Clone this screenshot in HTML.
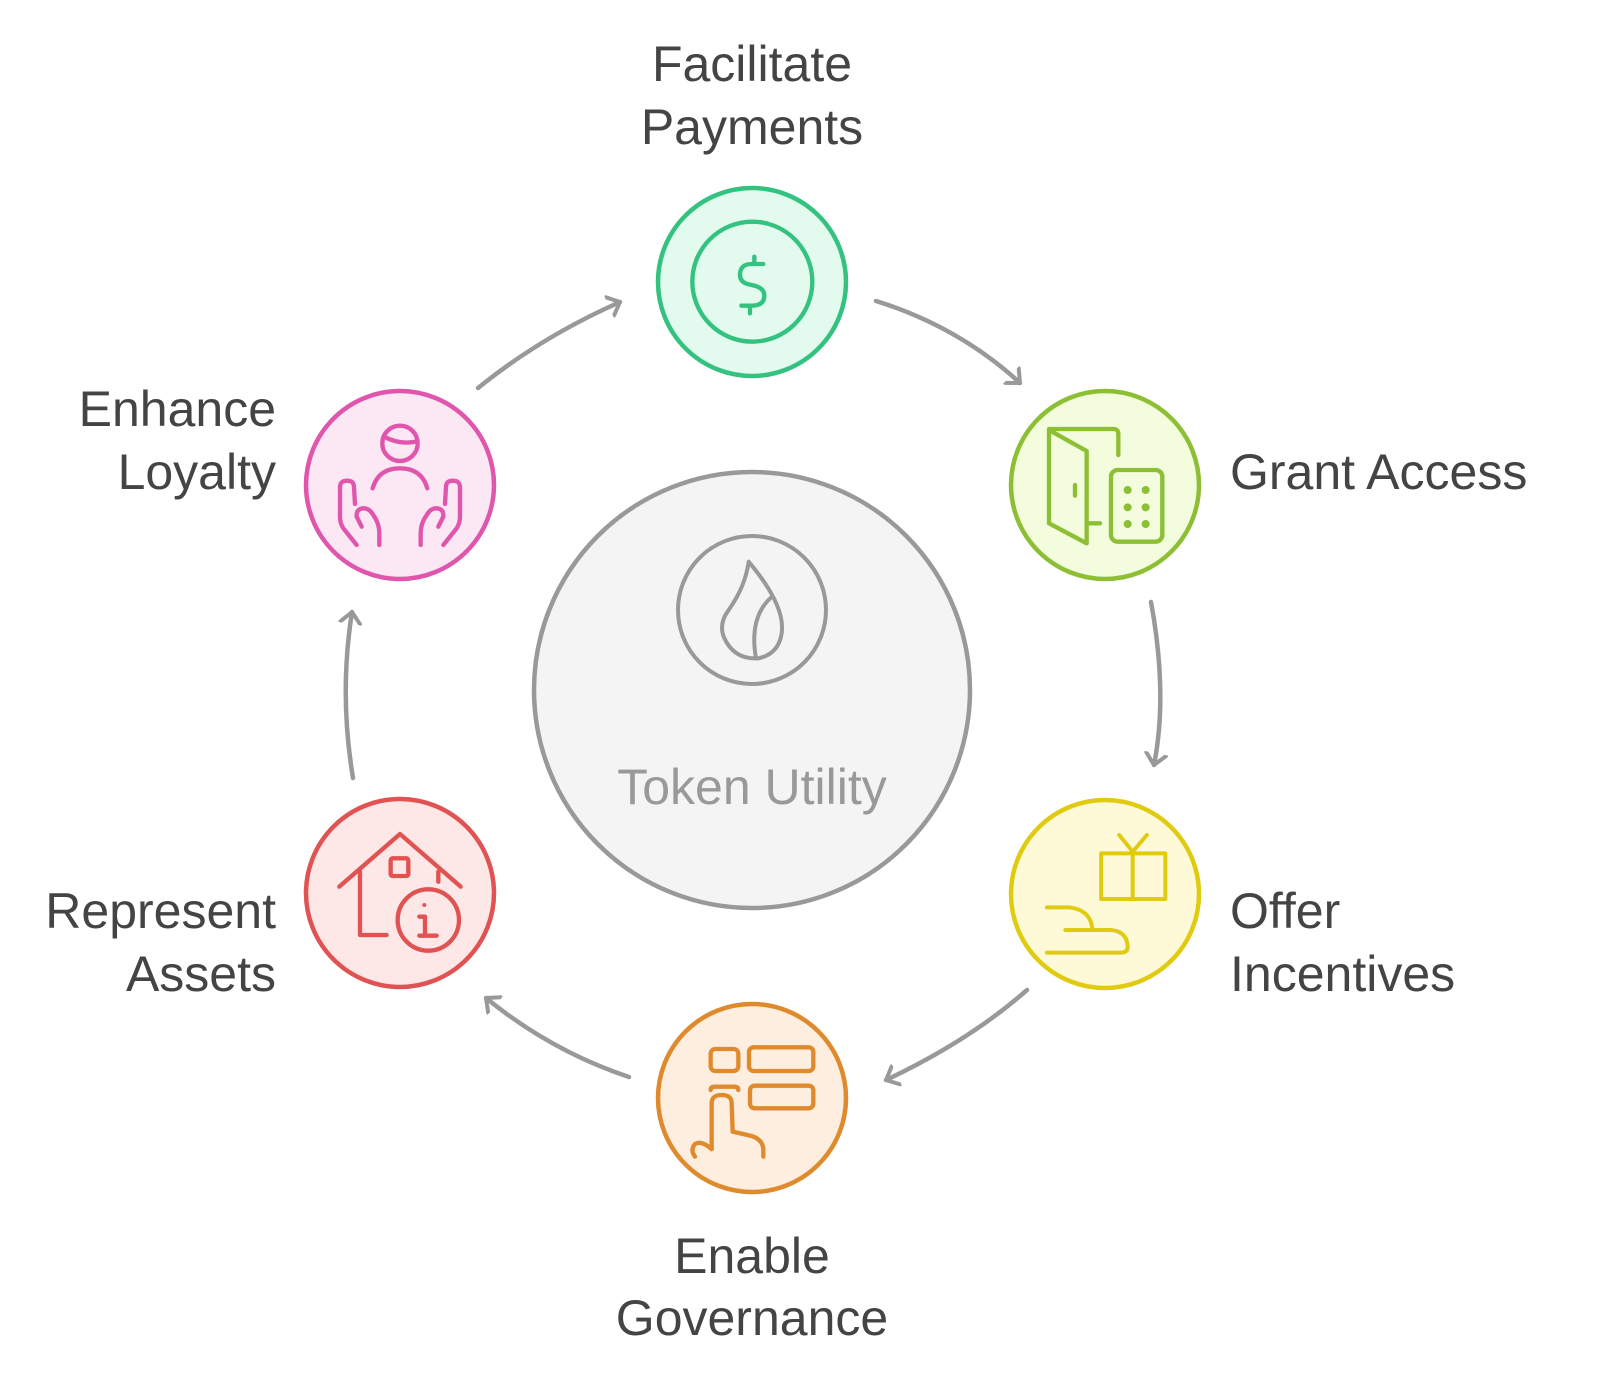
<!DOCTYPE html>
<html><head><meta charset="utf-8"><style>
html,body{margin:0;padding:0;background:#fff;}
svg{display:block}
text{font-family:"Liberation Sans",sans-serif;}
</style></head><body>
<svg width="1600" height="1380" viewBox="0 0 1600 1380" xmlns="http://www.w3.org/2000/svg">
<defs>
<marker id="ah" viewBox="-12 -12 24 24" markerWidth="24" markerHeight="24" markerUnits="userSpaceOnUse" refX="0" refY="0" orient="auto">
<path d="M-11,-10 L0,0 L-11,10" fill="none" stroke="#999" stroke-width="4" stroke-linecap="round" stroke-linejoin="round"/>
</marker>
</defs>
<g fill="none" stroke="#999" stroke-width="4.5" stroke-linecap="round" marker-end="url(#ah)">
<path d="M478,388 Q541,337 620,302"/>
<path d="M876,301 Q959,327 1020,383"/>
<path d="M1151,602 Q1168,694 1154,765"/>
<path d="M1027,990 Q969,1041 886,1080"/>
<path d="M629,1077 Q551,1051 486,998"/>
<path d="M353,778 Q339,694 352,612"/>
</g>

<!-- center -->
<circle cx="752" cy="690" r="218" fill="#f4f4f4" stroke="#999" stroke-width="4.5"/>
<g transform="translate(672,530) scale(0.3333)" fill="none" stroke="#999" stroke-width="12" stroke-linecap="round" stroke-linejoin="round">
<circle cx="240" cy="240" r="222"/>
<path d="M230,95 Q220,170 170,240 Q140,280 155,320 Q185,390 260,385 Q325,370 330,300 Q335,220 230,95 Z"/>
<path d="M300,200 Q230,260 252,385"/>
</g>
<text x="752" y="804" text-anchor="middle" font-size="50" fill="#999">Token Utility</text>

<!-- payments -->
<circle cx="752" cy="282" r="94" fill="#e3fbef" stroke="#33c27f" stroke-width="4.5"/>
<g transform="translate(600,150) scale(0.3333)" fill="none" stroke="#33c27f" stroke-width="13" stroke-linecap="round" stroke-linejoin="round">
<circle cx="457" cy="395" r="180"/>
<path d="M490,342 L455,342 Q420,342 420,375 Q420,400 455,405 Q493,412 493,437 Q493,467 455,467 L424,467"/>
<path d="M463,320 L463,342 M450,467 L450,490"/>
</g>

<!-- grant -->
<circle cx="1105" cy="485" r="94" fill="#f3fcdc" stroke="#8dbf35" stroke-width="4.5"/>
<g transform="translate(995,375) scale(0.3333)" fill="none" stroke="#8dbf35" stroke-width="13" stroke-linecap="round" stroke-linejoin="round">
<path d="M162,162 L355,162 Q370,162 370,177 L370,240"/>
<path d="M162,165 L275,228 L275,505 L162,445 Z"/>
<path d="M240,330 L240,362 M280,445 L315,445"/>
<rect x="348" y="285" width="154" height="215" rx="20"/>
<g fill="#8dbf35" stroke="none"><circle cx="398" cy="345" r="12"/><circle cx="452" cy="345" r="12"/><circle cx="398" cy="397" r="12"/><circle cx="452" cy="397" r="12"/><circle cx="398" cy="447" r="12"/><circle cx="452" cy="447" r="12"/></g>
</g>

<!-- offer -->
<circle cx="1105" cy="894" r="94" fill="#fefad8" stroke="#e1cb10" stroke-width="4.5"/>
<g transform="translate(1000,780) scale(0.3846,0.3333)" fill="none" stroke="#e1cb10" stroke-width="4" stroke-linecap="round" stroke-linejoin="round">
<rect x="263" y="220" width="167" height="137" vector-effect="non-scaling-stroke"/>
<path d="M345,220 L345,357 M310,165 L345,215 L382,165" vector-effect="non-scaling-stroke"/>
<path d="M122,382 L180,382 Q235,390 240,445" vector-effect="non-scaling-stroke"/>
<path d="M170,450 L290,450 Q330,455 332,500 Q332,518 315,518 L122,518" vector-effect="non-scaling-stroke"/>
</g>

<!-- governance -->
<circle cx="752" cy="1098" r="94" fill="#fdeee0" stroke="#e08a2e" stroke-width="4.5"/>
<g transform="translate(640,990) scale(0.3333)" fill="none" stroke="#e08a2e" stroke-width="13" stroke-linecap="round" stroke-linejoin="round">
<rect x="212" y="177" width="83" height="66" rx="14"/>
<rect x="327" y="172" width="193" height="71" rx="14"/>
<rect x="330" y="287" width="190" height="68" rx="14"/>
<path d="M212,300 Q212,290 225,290 L282,290 Q295,290 295,300"/>
<path d="M165,500 Q150,480 165,462 Q185,450 215,478 L215,340 Q215,315 245,315 Q275,315 275,340 L278,425 L335,438 Q370,450 370,480 L370,500"/>
</g>

<!-- represent -->
<circle cx="400" cy="893" r="94" fill="#fde8e7" stroke="#e05352" stroke-width="4.5"/>
<g transform="translate(290,790) scale(0.3333)" fill="none" stroke="#e05352" stroke-width="13" stroke-linecap="round" stroke-linejoin="round">
<path d="M148,290 L330,132 L512,290"/>
<path d="M210,245 L210,435 L290,435 M445,245 L445,275"/>
<rect x="302" y="205" width="53" height="53" rx="6"/>
<circle cx="415" cy="390" r="92"/>
<path d="M388,380 L405,380 L405,437 M388,437 L440,437"/>
<circle cx="403" cy="345" r="6" fill="#e05352" stroke="none"/>
</g>

<!-- loyalty -->
<circle cx="400" cy="485" r="94" fill="#fce7f4" stroke="#e056ac" stroke-width="4.5"/>
<g transform="translate(290,380) scale(0.3333)" fill="none" stroke="#e056ac" stroke-width="13" stroke-linecap="round" stroke-linejoin="round">
<circle cx="330" cy="190" r="53"/>
<path d="M282,170 Q330,195 378,185"/>
<path d="M248,325 Q265,265 330,265 Q395,265 412,325"/>
<path d="M200,495 L160,445 Q150,430 150,410 L150,322 Q150,302 172,302 Q192,302 192,322 L195,372 M215,440 L200,410 Q198,385 222,385 Q238,385 250,405 Q268,430 268,460 L268,495"/>
<path d="M460,495 L500,445 Q510,430 510,410 L510,322 Q510,302 488,302 Q468,302 468,322 L465,372 M445,440 L460,410 Q462,385 438,385 Q422,385 410,405 Q392,430 392,460 L392,495"/>
</g>

<!-- labels -->
<g font-size="50" fill="#444">
<text x="752" y="81" text-anchor="middle">Facilitate</text>
<text x="752" y="144" text-anchor="middle">Payments</text>
<text x="1230" y="489">Grant Access</text>
<text x="1230" y="928">Offer</text>
<text x="1230" y="991">Incentives</text>
<text x="752" y="1273" text-anchor="middle">Enable</text>
<text x="752" y="1335" text-anchor="middle">Governance</text>
<text x="276" y="928" text-anchor="end">Represent</text>
<text x="276" y="991" text-anchor="end">Assets</text>
<text x="276" y="426" text-anchor="end">Enhance</text>
<text x="276" y="489" text-anchor="end">Loyalty</text>
</g>
</svg>
</body></html>
